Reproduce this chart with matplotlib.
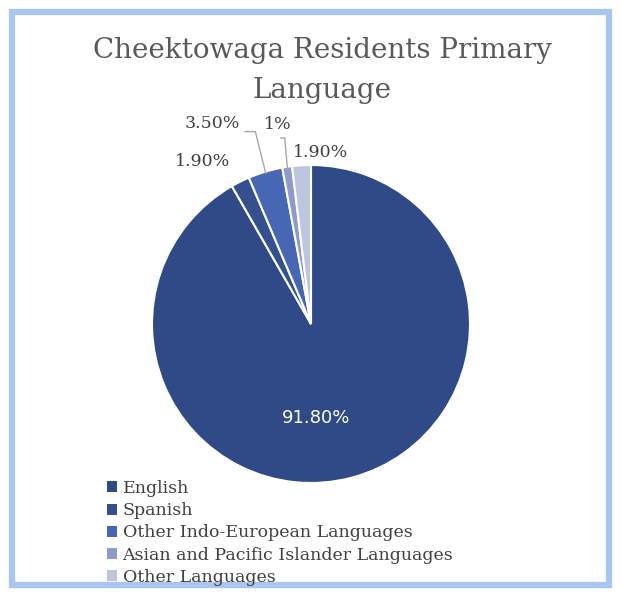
import numpy as np
import matplotlib
matplotlib.use("Agg")
import matplotlib.pyplot as plt
from matplotlib.patches import Rectangle

# data
languages = ["English", "Spanish", "Other Indo-European Languages",
             "Asian and Pacific Islander Languages", "Other Languages"]
shares = [91.8, 1.9, 3.5, 1.0, 1.9]
labels = ["91.80%", "1.90%", "3.50%", "1%", "1.90%"]
colors = ["#2f4a86", "#34508f", "#4766b3", "#8d9acb", "#bec5df"]

W, H = 621, 597
fig = plt.figure(figsize=(W / 100, H / 100), dpi=100)
fig.patch.set_facecolor("white")

# light blue frame around the chart
fig.patches.append(Rectangle((12 / W, 12 / H), 1 - 24 / W, 1 - 24 / H,
                             transform=fig.transFigure, fill=False,
                             edgecolor="#a9c5f3", linewidth=4.5))

fig.text(322 / W, 1 - 51 / H, "Cheektowaga Residents Primary",
         ha="center", va="center", fontsize=20, color="#595959",
         family="DejaVu Serif")
fig.text(322 / W, 1 - 90 / H, "Language",
         ha="center", va="center", fontsize=20, color="#595959",
         family="DejaVu Serif")

# pie axes: center (311, 324), radius 159 px
cx, cy, r = 311, 324, 159
ax = fig.add_axes([(cx - r) / W, 1 - (cy + r) / H, 2 * r / W, 2 * r / H])
wedges, _ = ax.pie(shares, colors=colors, startangle=90, counterclock=False,
                   wedgeprops=dict(edgecolor="white", linewidth=1.5))
ax.set_xlim(-1, 1)
ax.set_ylim(-1, 1)
ax.set_aspect("auto")
ax.axis("off")

def mid_angle(w):
    return np.deg2rad((w.theta1 + w.theta2) / 2)

lab = dict(fontsize=12.5, color="#404040", family="DejaVu Serif")

# big slice label inside
ax.text(0.03, -0.59, labels[0], ha="center", va="center", fontsize=13,
        color="white", family="DejaVu Sans")

# Spanish
ax.text(-0.68, 1.02, labels[1], ha="center", va="center", **lab)

# Other Indo-European with leader
a = mid_angle(wedges[2])
x0, y0 = 0.99 * np.cos(a), 0.99 * np.sin(a)
ax.plot([x0, -0.35, -0.415], [y0, 1.21, 1.21],
        color="#a6a6a6", lw=1, clip_on=False)
ax.text(-0.445, 1.205, labels[2], ha="right", va="bottom", **lab)

# Asian and Pacific Islander with leader
a = mid_angle(wedges[3])
x0, y0 = 0.99 * np.cos(a), 0.99 * np.sin(a)
ax.plot([x0, -0.165, -0.19], [y0, 1.17, 1.17],
        color="#a6a6a6", lw=1, clip_on=False)
ax.text(-0.21, 1.2, labels[3], ha="center", va="bottom", **lab)

# Other languages
ax.text(0.057, 1.08, labels[4], ha="center", va="center", **lab)

leg = fig.legend(wedges, languages, loc="upper left",
                 bbox_to_anchor=(100 / W, 1 - 473 / H), frameon=False,
                 handlelength=0.6, handleheight=0.6, handletextpad=0.3,
                 labelspacing=0.3, borderaxespad=0,
                 prop=dict(family="DejaVu Serif", size=12.5))
for t in leg.get_texts():
    t.set_color("#404040")
for h in leg.legend_handles:
    h.set_edgecolor("none")

fig.savefig("out.png", dpi=100)
